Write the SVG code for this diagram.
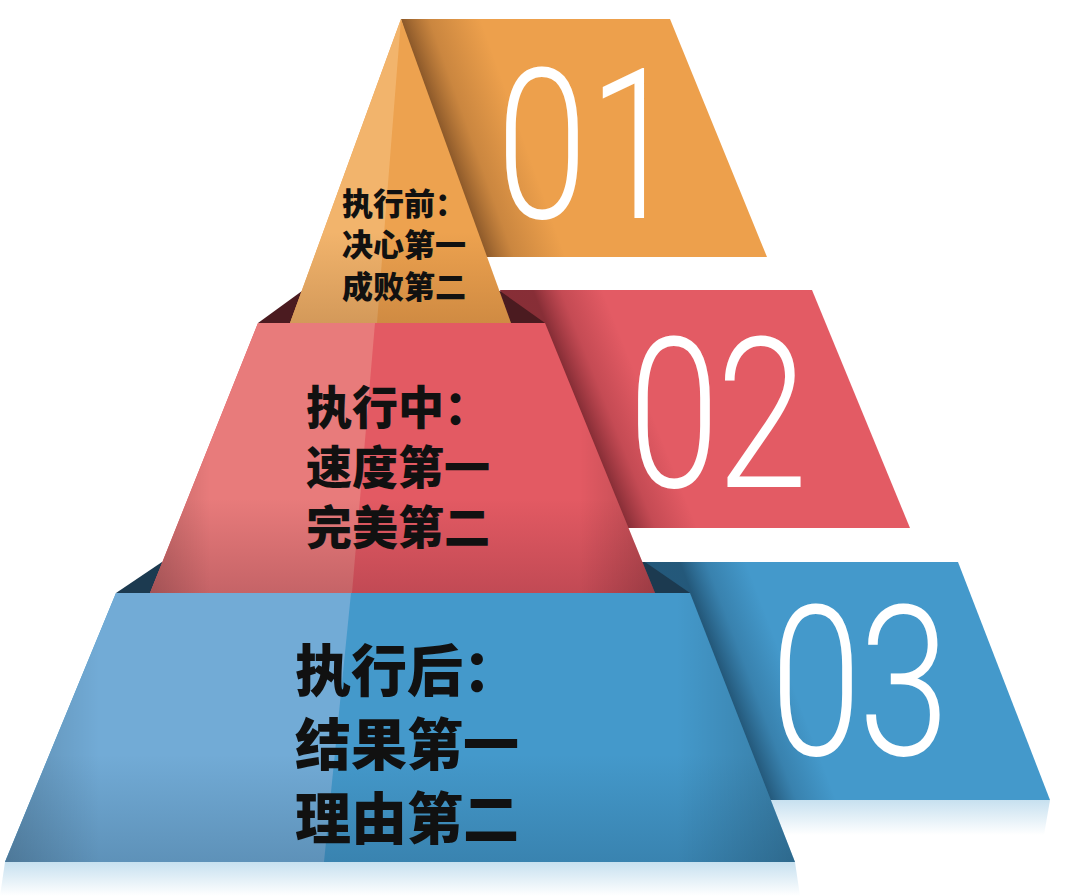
<svg xmlns="http://www.w3.org/2000/svg" width="1080" height="896" viewBox="0 0 1080 896">
<defs>
<style>
.lbl{font-family:"Noto Sans CJK SC","Noto Sans",sans-serif;font-weight:900;fill:#111}
.num{font-family:Roboto,"Liberation Sans",sans-serif;font-weight:300;fill:#fff;font-size:210px;text-anchor:middle}
</style>
<linearGradient id="shO" gradientUnits="userSpaceOnUse" x1="445" y1="140" x2="515" y2="115">
<stop offset="0" stop-color="#5a3418" stop-opacity="0.65"/><stop offset="0.35" stop-color="#7a4a22" stop-opacity="0.3"/><stop offset="1" stop-color="#7a4a22" stop-opacity="0"/>
</linearGradient>
<linearGradient id="shR" gradientUnits="userSpaceOnUse" x1="600" y1="458" x2="660" y2="434">
<stop offset="0" stop-color="#4a1018" stop-opacity="0.6"/><stop offset="0.4" stop-color="#6a1a24" stop-opacity="0.25"/><stop offset="1" stop-color="#6a1a24" stop-opacity="0"/>
</linearGradient>
<linearGradient id="shB" gradientUnits="userSpaceOnUse" x1="742" y1="726" x2="800" y2="704">
<stop offset="0" stop-color="#0e2d44" stop-opacity="0.6"/><stop offset="0.4" stop-color="#163c58" stop-opacity="0.25"/><stop offset="1" stop-color="#163c58" stop-opacity="0"/>
</linearGradient>
<linearGradient id="vO" x1="0" y1="0" x2="0" y2="1">
<stop offset="0.7" stop-color="#5a2e10" stop-opacity="0"/><stop offset="1" stop-color="#5a2e10" stop-opacity="0.2"/>
</linearGradient>
<linearGradient id="vR" x1="0" y1="0" x2="0" y2="1">
<stop offset="0.65" stop-color="#4a1020" stop-opacity="0"/><stop offset="1" stop-color="#4a1020" stop-opacity="0.22"/>
</linearGradient>
<linearGradient id="vB" x1="0" y1="0" x2="0" y2="1">
<stop offset="0.6" stop-color="#0d2c44" stop-opacity="0"/><stop offset="1" stop-color="#0d2c44" stop-opacity="0.2"/>
</linearGradient>
<linearGradient id="hEdge" x1="0" y1="0" x2="1" y2="0">
<stop offset="0" stop-color="#000" stop-opacity="0.18"/><stop offset="0.12" stop-color="#000" stop-opacity="0"/><stop offset="0.85" stop-color="#000" stop-opacity="0"/><stop offset="1" stop-color="#000" stop-opacity="0.2"/>
</linearGradient>
<linearGradient id="refB" x1="0" y1="0" x2="0" y2="1">
<stop offset="0" stop-color="#4499cb" stop-opacity="0.3"/><stop offset="1" stop-color="#4499cb" stop-opacity="0"/>
</linearGradient>
</defs>
<rect width="1080" height="896" fill="#fff"/>
<g id="connectors"/>
<g id="tier3">
<polygon points="645,562 958,562 1050,800 740,800" fill="#4499cb"/>
<polygon points="645,562 958,562 1050,800 740,800" fill="url(#shB)"/>
<polygon points="740,800 1050,800 1044,835 745,835" fill="url(#refB)"/>
<polygon points="162,562 645,562 690,593 116,593" fill="#1c3a50"/>
<polygon points="116,593 690,593 795,862 5,862" fill="#4499cb"/>
<polygon points="116,593 351,593 324,862 5,862" fill="#72abd6"/>
<polygon points="116,593 690,593 795,862 5,862" fill="url(#vB)"/>
<polygon points="116,593 690,593 795,862 5,862" fill="url(#hEdge)"/>
<polygon points="5,862 795,862 800,896 0,896" fill="url(#refB)"/>
<text class="lbl" font-size="56"><tspan x="295" y="691">执行后：</tspan><tspan x="295" y="765">结果第一</tspan><tspan x="295" y="839">理由第二</tspan></text>
<text class="num" transform="translate(816,755) scale(0.78,1)">0</text>
<text class="num" transform="translate(904,755) scale(0.78,1)">3</text>
</g>
<g id="tier2">
<polygon points="500,290 812,290 910,528 600,528" fill="#e35b64"/>
<polygon points="500,290 812,290 910,528 600,528" fill="url(#shR)"/>
<polygon points="302,291 500,291 545,323 258,323" fill="#4b1b20"/>
<polygon points="258,323 545,323 655,593 150,593" fill="#e35a63"/>
<polygon points="258,323 375,323 352,593 150,593" fill="#e87b7b"/>
<polygon points="258,323 545,323 655,593 150,593" fill="url(#vR)"/>
<polygon points="258,323 545,323 655,593 150,593" fill="url(#hEdge)"/>
<text class="lbl" font-size="46"><tspan x="306" y="424">执行中：</tspan><tspan x="306" y="484">速度第一</tspan><tspan x="306" y="544">完美第二</tspan></text>
<text class="num" transform="translate(674,487) scale(0.78,1)">0</text>
<text class="num" transform="translate(762,487) scale(0.78,1)">2</text>
</g>
<g id="tier1">
<polygon points="401,19 670,19 767,257 470,257" fill="#eda04c"/>
<polygon points="401,19 670,19 767,257 470,257" fill="url(#shO)"/>
<polygon points="401,19 290,323 511,323" fill="#eda24f"/>
<polygon points="401,19 290,323 377,323" fill="#f2b46c"/>
<polygon points="401,19 290,323 511,323" fill="url(#vO)"/>
<text class="lbl" font-size="31"><tspan x="342" y="215">执行前：</tspan><tspan x="342" y="256">决心第一</tspan><tspan x="342" y="298">成败第二</tspan></text>
<text class="num" transform="translate(542,218) scale(0.78,1)">0</text>
<text class="num" transform="translate(634,218) scale(0.78,1)">1</text>
</g>
</svg>
